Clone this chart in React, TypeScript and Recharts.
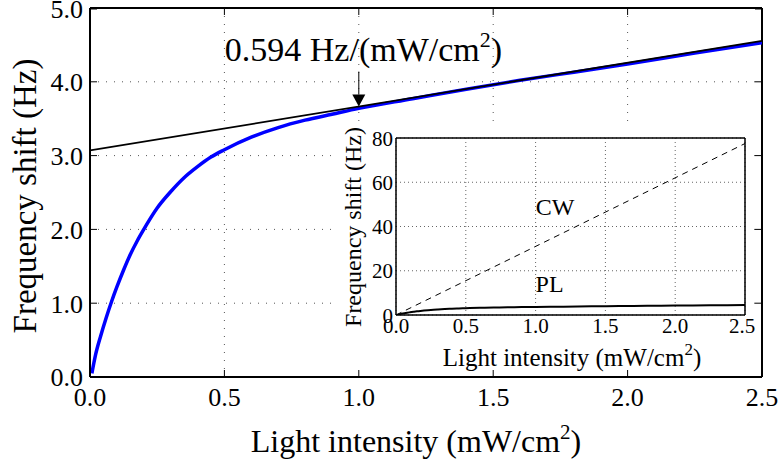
import React from 'react';
import {
  LineChart, Line, XAxis, YAxis, CartesianGrid, ReferenceLine, ReferenceDot, Label,
} from 'recharts';

// ---------- data ----------
const intensity = [0.007, 0.02, 0.04, 0.06, 0.08, 0.1, 0.125, 0.15, 0.175, 0.2, 0.25, 0.3, 0.35, 0.4, 0.45, 0.5, 0.6, 0.7, 0.8, 0.9, 1.0, 1.2, 1.4, 1.6, 1.8, 2.0, 2.25, 2.5];
const plShift = [0.05, 0.29, 0.56, 0.8, 1.02, 1.22, 1.45, 1.66, 1.84, 2.0, 2.29, 2.51, 2.7, 2.85, 2.98, 3.08, 3.25, 3.38, 3.48, 3.56, 3.64, 3.77, 3.9, 4.02, 4.13, 4.24, 4.39, 4.53];
const tangentX = [0.0, 2.5];
const tangentY = [3.07, 4.555];
const cwX = [0.0, 2.5];
const cwY = [0.0, 77.5];
const xTicks = [0.0, 0.5, 1.0, 1.5, 2.0, 2.5];
const mainYTicks = [0.0, 1.0, 2.0, 3.0, 4.0, 5.0];
const insetYTicks = [0, 20, 40, 60, 80];
const slopeLabel = '0.594 Hz/(mW/cm';
const annotX = 1.0;
const annotY = 3.664;
const cwLabelPos = { x: 1.14, y: 49 };
const plLabelPos = { x: 1.1, y: 14.5 };

const plData = intensity.map((x, i) => ({ x, y: plShift[i] }));
const tangentData = tangentX.map((x, i) => ({ x, y: tangentY[i] }));
const cwData = cwX.map((x, i) => ({ x, y: cwY[i] }));

// ---------- styling / layout ----------
const FONT = '"Liberation Serif", "Times New Roman", serif';
const MAIN_W = 780;
const MAIN_H = 465;
const MAIN_TOP = 8;
const MAIN_LEFT = 90;
const MAIN_RIGHT = 762;
const MAIN_XM = 11;
const MAIN_YM = 7;
const TICK = 7;

const MainXTick = (props: any) => {
  const { x, y, payload } = props;
  const axisY = y - MAIN_XM;
  return (
    <g>
      <line x1={x} x2={x} y1={axisY} y2={axisY - TICK} stroke="#000" strokeWidth={1} />
      <line x1={x} x2={x} y1={MAIN_TOP} y2={MAIN_TOP + TICK} stroke="#000" strokeWidth={1} />
      <text x={x} y={y} dy="0.71em" textAnchor="middle" fontFamily={FONT} fontSize={26} fill="#000">
        {Number(payload.value).toFixed(1)}
      </text>
    </g>
  );
};

const MainYTick = (props: any) => {
  const { x, y, payload } = props;
  const axisX = x + MAIN_YM;
  return (
    <g>
      <line x1={axisX} x2={axisX + TICK} y1={y} y2={y} stroke="#000" strokeWidth={1} />
      <line x1={MAIN_RIGHT} x2={MAIN_RIGHT - TICK} y1={y} y2={y} stroke="#000" strokeWidth={1} />
      <text x={x} y={y} dy="0.36em" textAnchor="end" fontFamily={FONT} fontSize={26} fill="#000">
        {Number(payload.value).toFixed(1)}
      </text>
    </g>
  );
};

const InsetXTick = (props: any) => {
  const { x, y, payload } = props;
  return (
    <text x={x} y={y} dy="0.71em" textAnchor="middle" fontFamily={FONT} fontSize={21} fill="#000">
      {Number(payload.value).toFixed(1)}
    </text>
  );
};

const InsetYTick = (props: any) => {
  const { x, y, payload } = props;
  return (
    <text x={x} y={y} dy="0.36em" textAnchor="end" fontFamily={FONT} fontSize={21} fill="#000">
      {payload.value}
    </text>
  );
};

const MainXLabel = () => (
  <text x={416} y={452} textAnchor="middle" fontFamily={FONT} fontSize={32} fill="#000">
    <tspan>Light intensity (mW/cm</tspan>
    <tspan dy={-13} fontSize={21}>2</tspan>
    <tspan dy={13}>)</tspan>
  </text>
);

const MainYLabel = () => (
  <text x={36} y={196} transform="rotate(-90 36 196)" textAnchor="middle" fontFamily={FONT} fontSize={33} fill="#000">
    Frequency shift (Hz)
  </text>
);

const InsetXLabel = () => (
  <text x={234} y={240} textAnchor="middle" fontFamily={FONT} fontSize={25} fill="#000">
    <tspan>Light intensity (mW/cm</tspan>
    <tspan dy={-11} fontSize={17}>2</tspan>
    <tspan dy={11}>)</tspan>
  </text>
);

const InsetYLabel = () => (
  <text x={23} y={101} transform="rotate(-90 23 101)" textAnchor="middle" fontFamily={FONT} fontSize={24} fill="#000">
    Frequency shift (Hz)
  </text>
);

const Annotation = (props: any) => {
  const { cx, cy } = props;
  if (cx == null || cy == null) return null;
  return (
    <g>
      <line x1={cx} x2={cx} y1={cy - 35} y2={cy - 12} stroke="#000" strokeWidth={1} />
      <polygon points={`${cx - 6.5},${cy - 12} ${cx + 6.5},${cy - 12} ${cx},${cy}`} fill="#000" />
      <text x={cx - 134} y={cy - 46} fontFamily={FONT} fontSize={34} fill="#000">
        <tspan>{slopeLabel}</tspan>
        <tspan dy={-14} fontSize={22}>2</tspan>
        <tspan dy={14}>)</tspan>
      </text>
    </g>
  );
};

const TextMark = (text: string) => (props: any) => {
  const { cx, cy } = props;
  if (cx == null || cy == null) return null;
  return (
    <text x={cx} y={cy} dy="0.36em" textAnchor="middle" fontFamily={FONT} fontSize={24} fill="#000">
      {text}
    </text>
  );
};

export default function App() {
  return (
    <div style={{ position: 'absolute', left: 0, top: 0, width: MAIN_W, height: MAIN_H, background: '#fff' }}>
      <style>{'.inset svg, .mainchart svg { overflow: visible; }'}</style>
      <div className="mainchart" style={{ position: 'absolute', left: 0, top: 0 }}>
        <LineChart
          width={MAIN_W}
          height={MAIN_H}
          margin={{ top: MAIN_TOP, right: MAIN_W - MAIN_RIGHT, bottom: 0, left: MAIN_LEFT - 60 }}
        >
          <CartesianGrid stroke="#555" strokeDasharray="1 7" />
          <XAxis
            type="number"
            dataKey="x"
            domain={[0, 2.5]}
            ticks={xTicks}
            allowDataOverflow
            height={MAIN_H - 377}
            tickSize={0}
            tickMargin={MAIN_XM}
            tick={<MainXTick />}
            axisLine={{ stroke: '#000', strokeWidth: 2 }}
          >
            <Label content={<MainXLabel />} />
          </XAxis>
          <YAxis
            type="number"
            dataKey="y"
            domain={[0, 5]}
            ticks={mainYTicks}
            allowDataOverflow
            width={60}
            tickSize={0}
            tickMargin={MAIN_YM}
            tick={<MainYTick />}
            axisLine={{ stroke: '#000', strokeWidth: 2 }}
          >
            <Label content={<MainYLabel />} />
          </YAxis>
          <ReferenceLine y={5} stroke="#000" strokeWidth={2} />
          <ReferenceLine x={2.5} stroke="#000" strokeWidth={2} />
          <Line data={plData} dataKey="y" type="monotone" stroke="#0000ff" strokeWidth={3.5} dot={false} isAnimationActive={false} />
          <Line data={tangentData} dataKey="y" type="linear" stroke="#000" strokeWidth={1.8} dot={false} isAnimationActive={false} />
          <ReferenceDot x={annotX} y={annotY} r={0} shape={<Annotation />} />
        </LineChart>
      </div>
      <div className="inset" style={{ position: 'absolute', left: 338, top: 126, width: 414, height: 244, background: '#fff' }}>
        <LineChart width={414} height={244} margin={{ top: 12, right: 7, bottom: 0, left: 18 }}>
          <CartesianGrid stroke="#666" strokeDasharray="1 3" />
          <XAxis
            type="number"
            dataKey="x"
            domain={[0, 2.5]}
            ticks={xTicks}
            allowDataOverflow
            height={55}
            tickSize={0}
            tickMargin={3}
            tick={<InsetXTick />}
            axisLine={{ stroke: '#000', strokeWidth: 1.5 }}
          >
            <Label content={<InsetXLabel />} />
          </XAxis>
          <YAxis
            type="number"
            dataKey="y"
            domain={[0, 80]}
            ticks={insetYTicks}
            allowDataOverflow
            width={40}
            tickSize={0}
            tickMargin={3}
            tick={<InsetYTick />}
            axisLine={{ stroke: '#000', strokeWidth: 1.5 }}
          >
            <Label content={<InsetYLabel />} />
          </YAxis>
          <ReferenceLine y={80} stroke="#000" strokeWidth={1.5} />
          <ReferenceLine x={2.5} stroke="#000" strokeWidth={1.5} />
          <Line data={cwData} dataKey="y" type="linear" stroke="#000" strokeWidth={1} strokeDasharray="6 5" dot={false} isAnimationActive={false} />
          <Line data={plData} dataKey="y" type="monotone" stroke="#000" strokeWidth={2} dot={false} isAnimationActive={false} />
          <ReferenceDot x={cwLabelPos.x} y={cwLabelPos.y} r={0} shape={TextMark('CW')} />
          <ReferenceDot x={plLabelPos.x} y={plLabelPos.y} r={0} shape={TextMark('PL')} />
        </LineChart>
      </div>
    </div>
  );
}
